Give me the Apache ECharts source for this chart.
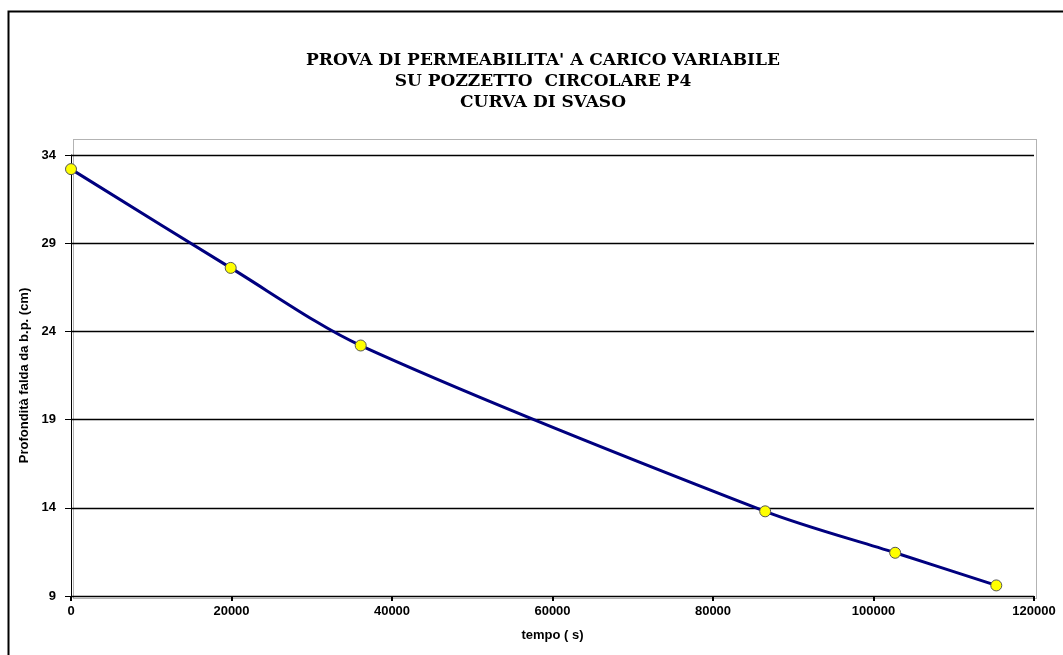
<!DOCTYPE html>
<html>
<head>
<meta charset="utf-8">
<script src="https://cdn.jsdelivr.net/npm/echarts@6/dist/echarts.min.js"></script>
<style>
html,body{margin:0;padding:0;background:#fff;}
#main{width:1063px;height:655px;}
</style>
</head>
<body>
<div id="main"></div>
<script>
const titleLines = ["PROVA DI PERMEABILITA' A CARICO VARIABILE", "SU POZZETTO  CIRCOLARE P4", "CURVA DI SVASO"];
const xName = "tempo ( s)";
const yName = "Profondità falda da b.p. (cm)";
const timeValues = [0, 19900, 36100, 86500, 102700, 115300];
const depthValues = [33.2, 27.6, 23.2, 13.8, 11.45, 9.6];
const xTicks = {min: 0, max: 120000, interval: 20000};
const yTicks = {min: 9, max: 34, interval: 5};

const points = timeValues.map((t, i) => [t, depthValues[i]]);
const chart = echarts.init(document.getElementById('main'));
const axisFont = {fontFamily: 'Liberation Sans', fontWeight: 'bold', fontSize: 13, color: '#000'};

chart.setOption({
  animation: false,
  backgroundColor: '#fff',
  title: {
    text: titleLines.join('\n'),
    left: 538,
    textAlign: 'center',
    top: 45,
    textStyle: {fontFamily: 'DejaVu Serif', fontWeight: 'bold', fontSize: 17, lineHeight: 21, color: '#000'}
  },
  graphic: [
    {type: 'rect', left: 6, top: 9, shape: {width: 1100, height: 700}, style: {fill: 'none', stroke: '#000', lineWidth: 2}, silent: true},
    {type: 'rect', left: 71, top: 137, shape: {width: 963, height: 459}, style: {fill: 'none', stroke: '#666', lineWidth: 1, lineDash: [1, 1]}, silent: true, z: -1}
  ],
  grid: {left: 71, right: 29, top: 155, bottom: 59, containLabel: false},
  xAxis: {
    type: 'value',
    min: xTicks.min, max: xTicks.max, interval: xTicks.interval,
    name: xName, nameLocation: 'middle', nameGap: 33,
    nameTextStyle: axisFont,
    axisLine: {show: true, lineStyle: {color: '#000', width: 1}},
    axisTick: {show: true, length: 5, lineStyle: {color: '#000', width: 2}},
    axisLabel: Object.assign({margin: 9, formatter: v => String(v)}, axisFont),
    splitLine: {show: false}
  },
  yAxis: {
    type: 'value',
    min: yTicks.min, max: yTicks.max, interval: yTicks.interval,
    name: yName, nameLocation: 'middle', nameGap: 39,
    nameTextStyle: axisFont,
    axisLine: {show: true, lineStyle: {color: '#000', width: 1}},
    axisTick: {show: true, length: 6, lineStyle: {color: '#000', width: 1}},
    axisLabel: Object.assign({margin: 15, formatter: v => String(v)}, axisFont),
    splitLine: {show: true, lineStyle: {color: '#000', width: 1.3}}
  },
  series: [{
    type: 'line',
    data: points,
    smooth: 0.3,
    symbol: 'circle',
    symbolSize: 11,
    lineStyle: {color: '#00007f', width: 3},
    itemStyle: {color: '#ffff00', borderColor: '#555', borderWidth: 1}
  }]
});
</script>
</body>
</html>
